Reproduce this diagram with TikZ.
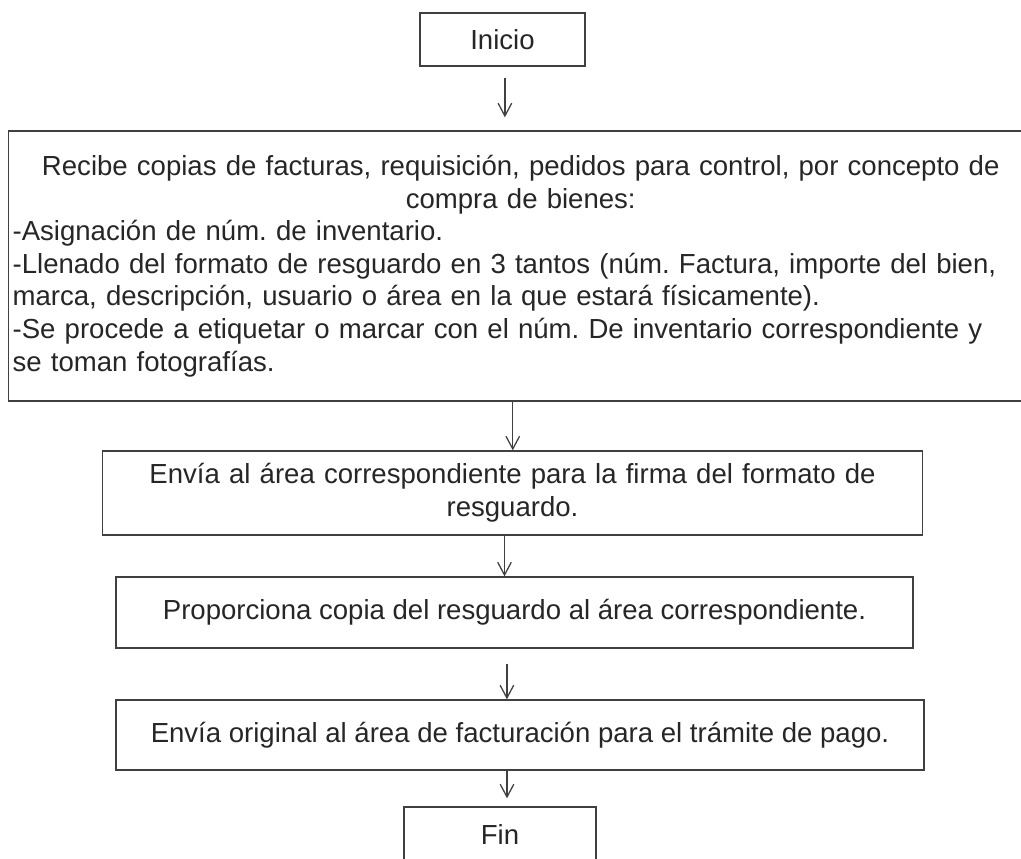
\documentclass[tikz,border=0pt]{standalone}
\usepackage{fontspec}
\setmainfont{Liberation Sans}
\frenchspacing
\usetikzlibrary{arrows.meta}
\begin{document}
\begin{tikzpicture}[x=0.025cm,y=-0.025cm,
  box/.style={draw=black!75,line width=0.9pt,inner sep=0pt,text=black!85,
    font=\fontsize{19.6}{23.2}\selectfont},
  arr/.style={draw=black!75,line width=0.9pt,-{Straight Barb[length=3.2mm,width=3.4mm,line width=0.9pt]}}]
\useasboundingbox (0,0) rectangle (1021,859);
\clip (0,0) rectangle (1021,859);
\node[box,minimum width=4.125cm,minimum height=1.325cm] (inicio) at (502.5,39.5) {Inicio};
\node[box,anchor=west,inner xsep=0.1cm,minimum height=6.75cm,text width=25.4cm] (big) at (8,266) {%
{\centering Recibe copias de facturas, requisición, pedidos para control, por concepto de\\ compra de bienes:\par}%
\raggedright -Asignación de núm. de inventario.\\
-Llenado del formato de resguardo en 3 tantos (núm. Factura, importe del bien,\\
marca, descripción, usuario o área en la que estará físicamente).\\
-Se procede a etiquetar o marcar con el núm. De inventario correspondiente y\\
se toman fotografías.\par};
\node[box,minimum width=20.5cm,minimum height=2.1cm,text width=20.3cm,align=center] (envia) at (512.5,493) {Envía al área correspondiente para la firma del formato de\\ resguardo.};
\node[box,minimum width=19.925cm,minimum height=1.775cm] (prop) at (514.5,612.5) {Proporciona copia del resguardo al área correspondiente.};
\node[box,minimum width=20.2cm,minimum height=1.75cm] (envia2) at (520,735) {Envía original al área de facturación para el trámite de pago.};
\node[box,minimum width=4.8cm,minimum height=1.4cm] (fin) at (500,835) {Fin};
\draw[arr,shorten <=0.275cm,shorten >=0.325cm] ([xshift=0.06cm]inicio.south) -- ([xshift=0.06cm]inicio.south |- big.north);
\draw[arr] ([xshift=-0.2cm]big.south) -- ([xshift=-0.2cm]big.south |- envia.north);
\draw[arr] ([xshift=-0.2cm]envia.south) -- ([xshift=-0.2cm]envia.south |- prop.north);
\draw[arr,shorten <=0.375cm] ([xshift=-0.19cm]prop.south) -- ([xshift=-0.19cm]prop.south |- envia2.north);
\draw[arr,shorten >=0.2cm] ([xshift=-0.325cm]envia2.south) -- ([xshift=-0.325cm]envia2.south |- fin.north);
\end{tikzpicture}
\end{document}
